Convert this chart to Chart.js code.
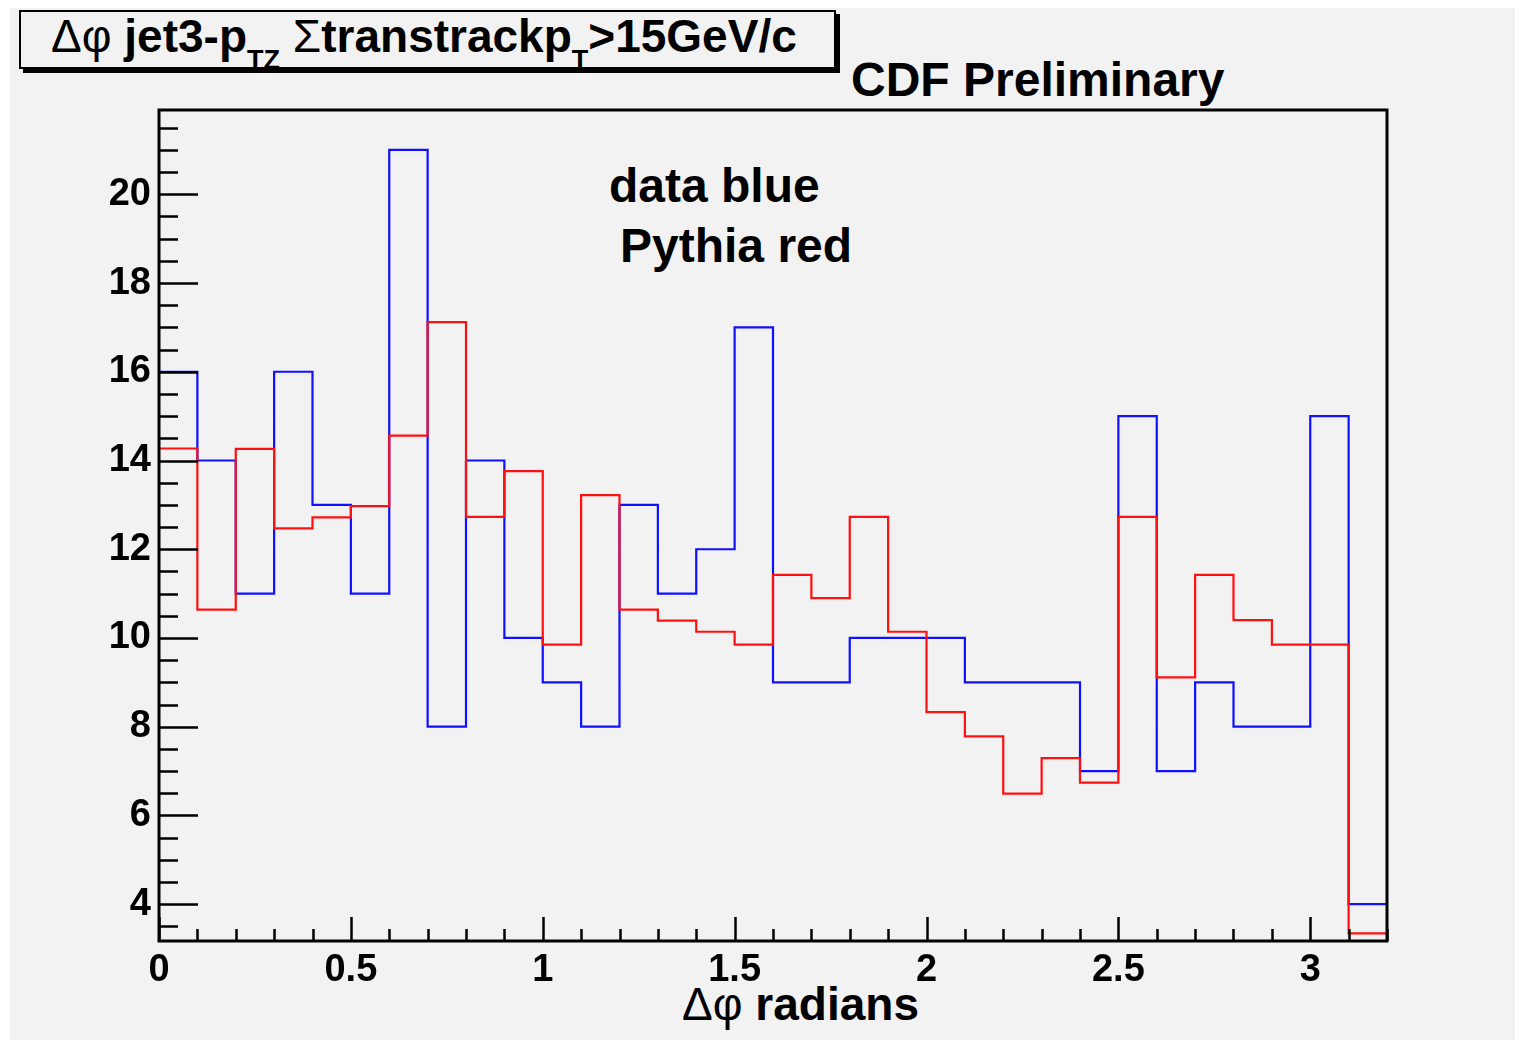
<!DOCTYPE html>
<html>
<head>
<meta charset="utf-8">
<script src="https://cdn.jsdelivr.net/npm/chart.js@4.4.1/dist/chart.umd.min.js"></script>
<style>
html,body{margin:0;padding:0;background:#fff;}
#wrap{position:relative;width:1525px;height:1043px;overflow:hidden;background:#fff;}
#bg{position:absolute;left:10px;top:8px;width:1505px;height:1032px;background:#f2f2f2;}
#c{position:absolute;left:0;top:0;}
.t{position:absolute;font-family:"Liberation Sans",Arial,Helvetica,sans-serif;font-weight:bold;color:#000;white-space:nowrap;line-height:1;}
.sym{font-weight:normal;}
.sub{font-size:27px;position:relative;top:17px;}
#titlebox{position:absolute;left:19px;top:10px;width:813px;height:55px;border:2px solid #000;box-shadow:4px 4px 0 #000;background:#f2f2f2;}
</style>
</head>
<body>
<div id="wrap">
  <div id="bg"></div>
  <div id="titlebox"></div>
  <div class="t" style="left:51px;top:13px;font-size:46px;"><span class="sym">Δφ</span> jet3-p<span class="sub">TZ</span> <span class="sym">Σ</span>transtrackp<span class="sub">T</span>&gt;15GeV/c</div>
  <div class="t" style="left:851px;top:56px;font-size:48px;">CDF Preliminary</div>
  <div class="t" style="left:609px;top:162px;font-size:48px;">data blue</div>
  <div class="t" style="left:620px;top:222px;font-size:48px;">Pythia red</div>
  <div class="t" style="left:682px;top:981px;font-size:46px;"><span class="sym">Δφ</span> radians</div>
  <canvas id="c" width="1525" height="1043"></canvas>
</div>
<script>
// Bin lower edges (Δφ, radians), bin width 0.1, plus final upper edge
const binEdges = [0,0.1,0.2,0.3,0.4,0.5,0.6,0.7,0.8,0.9,1.0,1.1,1.2,1.3,1.4,1.5,1.6,1.7,1.8,1.9,2.0,2.1,2.2,2.3,2.4,2.5,2.6,2.7,2.8,2.9,3.0,3.1,3.2];
// Data (blue)
const dataBlue = [16,14,11,16,13,11,21,8,14,10,9,8,13,11,12,17,9,9,10,10,10,9,9,9,7,15,7,9,8,8,15,4];
// Pythia (red)
const pythiaRed = [14.27,10.64,14.26,12.47,12.72,12.97,14.56,17.12,12.73,13.76,9.85,13.22,10.64,10.39,10.14,9.85,11.42,10.9,12.73,10.14,8.33,7.78,6.49,7.29,6.74,12.73,9.11,11.42,10.4,9.85,9.85,3.34];
// Axis tick labels
const xTickLabels = [0,0.5,1,1.5,2,2.5,3];
const yTickLabels = [4,6,8,10,12,14,16,18,20];

function histPoints(vals){
  return binEdges.map((x,i)=>({x:x, y:vals[Math.min(i, vals.length-1)]}));
}

const FONT = '"Liberation Sans", Arial, Helvetica, sans-serif';

const frameTicks = {
  id:'frameTicks',
  afterDatasetsDraw(chart){
    const ctx = chart.ctx, a = chart.chartArea;
    const xs = chart.scales.x, ys = chart.scales.y;
    ctx.save();
    ctx.strokeStyle = '#000';
    ctx.lineWidth = 2.5;
    ctx.beginPath();
    for(let k=0;k<=32;k++){
      const v = k/10;
      const px = Math.round(xs.getPixelForValue(v))+0.5;
      const len = (k%5===0) ? 24 : 12;
      ctx.moveTo(px, a.bottom); ctx.lineTo(px, a.bottom-len);
    }
    for(let k=7;k<=43;k++){
      const v = k/2;
      if(v < ys.min || v > ys.max) continue;
      const py = Math.round(ys.getPixelForValue(v))+0.5;
      const len = (k%4===0) ? 39 : 19;
      ctx.moveTo(a.left, py); ctx.lineTo(a.left+len, py);
    }
    ctx.stroke();
    ctx.lineWidth = 3;
    ctx.strokeRect(a.left, a.top, a.right-a.left, a.bottom-a.top);
    ctx.restore();
  }
};

new Chart(document.getElementById('c'), {
  type:'line',
  data:{
    datasets:[
      {label:'Pythia red', data:histPoints(pythiaRed), borderColor:'#ff1010', borderWidth:2.2, stepped:true, pointRadius:0, fill:false, order:0},
      {label:'data blue', data:histPoints(dataBlue), borderColor:'#1010ff', borderWidth:2.2, stepped:true, pointRadius:0, fill:false, order:1}
    ]
  },
  options:{
    responsive:false,
    animation:false,
    layout:{padding:{top:110,right:138,left:0,bottom:0}},
    plugins:{legend:{display:false}, tooltip:{enabled:false}, title:{display:false}},
    scales:{
      x:{
        type:'linear', min:0, max:3.2,
        grid:{display:false, drawTicks:false}, border:{display:false},
        afterBuildTicks:(s)=>{ s.ticks = xTickLabels.map(v=>({value:v})); },
        afterFit:(s)=>{ s.height = 102; },
        ticks:{padding:7, color:'#000', maxRotation:0, autoSkip:false,
          font:{family:FONT, weight:'bold', size:38},
          callback:(v)=>String(v)}
      },
      y:{
        type:'linear', min:3.17, max:21.9,
        grid:{display:false, drawTicks:false}, border:{display:false},
        afterBuildTicks:(s)=>{ s.ticks = yTickLabels.map(v=>({value:v})); },
        afterFit:(s)=>{ s.width = 159; },
        ticks:{padding:8, color:'#000', autoSkip:false,
          font:{family:FONT, weight:'bold', size:38},
          callback:(v)=>String(v)}
      }
    }
  },
  plugins:[frameTicks]
});
</script>
</body>
</html>
